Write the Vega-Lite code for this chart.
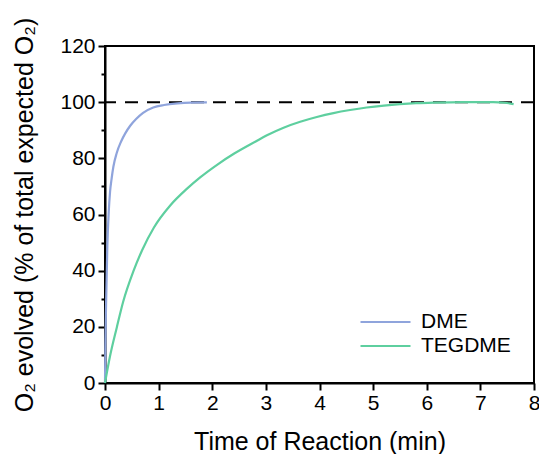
{
  "$schema": "https://vega.github.io/schema/vega-lite/v6.json",
  "width": 429,
  "height": 337,
  "autosize": {"type": "none"},
  "padding": {"left": 105, "top": 46, "right": 5, "bottom": 71},
  "background": "white",
  "config": {
    "font": "Liberation Sans",
    "view": {"stroke": "black", "strokeWidth": 2},
    "axis": {"grid": false, "domainColor": "black", "domainWidth": 2, "tickColor": "black", "tickWidth": 2, "labelColor": "black", "titleColor": "black", "labelFont": "Liberation Sans", "titleFont": "Liberation Sans", "titleFontWeight": "normal"}
  },
  "datasets": {
    "curves": [
      {"series": "DME", "t": 0, "o2": 0},
      {"series": "DME", "t": 0.008, "o2": 15},
      {"series": "DME", "t": 0.02, "o2": 28},
      {"series": "DME", "t": 0.044, "o2": 49},
      {"series": "DME", "t": 0.07, "o2": 61},
      {"series": "DME", "t": 0.094, "o2": 68},
      {"series": "DME", "t": 0.125, "o2": 73},
      {"series": "DME", "t": 0.156, "o2": 77},
      {"series": "DME", "t": 0.22, "o2": 82},
      {"series": "DME", "t": 0.3, "o2": 86},
      {"series": "DME", "t": 0.375, "o2": 88.8},
      {"series": "DME", "t": 0.47, "o2": 91.6},
      {"series": "DME", "t": 0.58, "o2": 94},
      {"series": "DME", "t": 0.71, "o2": 96.2},
      {"series": "DME", "t": 0.9, "o2": 98.1},
      {"series": "DME", "t": 1.1, "o2": 99},
      {"series": "DME", "t": 1.35, "o2": 99.6},
      {"series": "DME", "t": 1.6, "o2": 99.85},
      {"series": "DME", "t": 1.9, "o2": 99.9},
      {"series": "TEGDME", "t": 0, "o2": 0},
      {"series": "TEGDME", "t": 0.094, "o2": 9.6},
      {"series": "TEGDME", "t": 0.22, "o2": 19.8},
      {"series": "TEGDME", "t": 0.34, "o2": 29},
      {"series": "TEGDME", "t": 0.53, "o2": 39.8},
      {"series": "TEGDME", "t": 0.69, "o2": 47.2},
      {"series": "TEGDME", "t": 0.91, "o2": 55.3},
      {"series": "TEGDME", "t": 1.22, "o2": 63.3},
      {"series": "TEGDME", "t": 1.53, "o2": 69.2},
      {"series": "TEGDME", "t": 1.78, "o2": 73.3},
      {"series": "TEGDME", "t": 2.09, "o2": 77.7},
      {"series": "TEGDME", "t": 2.41, "o2": 81.7},
      {"series": "TEGDME", "t": 2.81, "o2": 86},
      {"series": "TEGDME", "t": 3.02, "o2": 88.2},
      {"series": "TEGDME", "t": 3.33, "o2": 90.9},
      {"series": "TEGDME", "t": 3.64, "o2": 93},
      {"series": "TEGDME", "t": 3.95, "o2": 94.7},
      {"series": "TEGDME", "t": 4.26, "o2": 96.1},
      {"series": "TEGDME", "t": 4.57, "o2": 97.2},
      {"series": "TEGDME", "t": 4.88, "o2": 98.1},
      {"series": "TEGDME", "t": 5.2, "o2": 98.8},
      {"series": "TEGDME", "t": 5.5, "o2": 99.3},
      {"series": "TEGDME", "t": 5.8, "o2": 99.65},
      {"series": "TEGDME", "t": 6.13, "o2": 99.85},
      {"series": "TEGDME", "t": 6.45, "o2": 99.95},
      {"series": "TEGDME", "t": 6.75, "o2": 100},
      {"series": "TEGDME", "t": 7.0, "o2": 100},
      {"series": "TEGDME", "t": 7.24, "o2": 100},
      {"series": "TEGDME", "t": 7.45, "o2": 99.8},
      {"series": "TEGDME", "t": 7.62, "o2": 99.3}
    ],
    "ref": [{"level": 100}]
  },
  "layer": [
    {
      "data": {"name": "ref"},
      "mark": {"type": "rule", "color": "black", "strokeWidth": 2, "strokeDash": [13, 9]},
      "encoding": {
        "y": {"field": "level", "type": "quantitative", "scale": {"domain": [0, 120]},
          "axis": {"orient": "left", "values": [10, 30, 50, 70, 90, 110], "labels": false, "domain": false, "title": null, "tickSize": 4}}
      }
    },
    {
      "data": {"name": "curves"},
      "mark": {"type": "line", "interpolate": "monotone", "strokeWidth": 2.2},
      "encoding": {
        "x": {"field": "t", "type": "quantitative", "scale": {"domain": [0, 8], "nice": false},
          "axis": {"values": [0, 1, 2, 3, 4, 5, 6, 7, 8], "title": "Time of Reaction (min)", "labelFontSize": 21, "titleFontSize": 25, "tickSize": 7, "labelPadding": 2, "titlePadding": 16, "labelFlush": false}},
        "y": {"field": "o2", "type": "quantitative", "scale": {"domain": [0, 120]},
          "axis": {"orient": "left", "values": [0, 20, 40, 60, 80, 100, 120], "title": "O₂ evolved (% of total expected O₂)", "labelFontSize": 21, "titleFontSize": 25, "tickSize": 7, "labelPadding": 3, "titlePadding": 22}},
        "color": {"field": "series", "type": "nominal",
          "scale": {"domain": ["DME", "TEGDME"], "range": ["#8fa4dc", "#5ecf9f"]},
          "legend": {"title": null, "orient": "none", "legendX": 279, "legendY": 262, "symbolType": "M-3,0H1", "symbolSize": 625, "symbolStrokeWidth": 2.2, "symbolFillColor": "transparent", "labelFontSize": 21, "labelColor": "black", "labelFont": "Liberation Sans", "rowPadding": -4, "labelOffset": 9}}
      }
    }
  ],
  "resolve": {"axis": {"y": "independent"}}
}
